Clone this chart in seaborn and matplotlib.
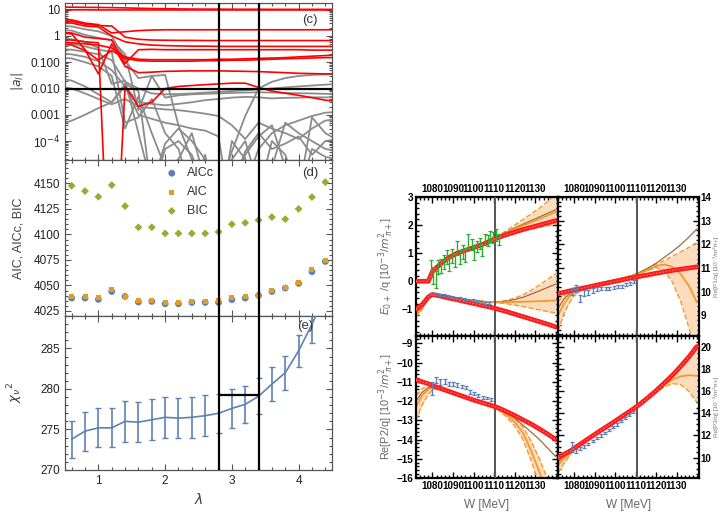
import pandas as pd
import seaborn as sns
import matplotlib.pyplot as plt
from matplotlib.ticker import MultipleLocator, FixedLocator, FixedFormatter, NullFormatter, LogLocator, StrMethodFormatter

sns.set_theme(style="ticks")
plt.rcParams['font.family'] = ['Liberation Sans', 'DejaVu Sans']
plt.rcParams['axes.labelcolor'] = '#404040'

# ---------------- left column: lambda scan ----------------
lam = [0.6, 0.8, 1.0, 1.2, 1.4, 1.6, 1.8, 2.0, 2.2, 2.4, 2.6, 2.8, 3.0, 3.2, 3.4, 3.6, 3.8, 4.0, 4.2, 4.4]
aicc = [4037.6, 4037.6, 4036.3, 4044.0, 4039.2, 4033.7, 4034.3, 4032.0, 4032.0, 4033.3,
        4033.3, 4033.3, 4036.0, 4037.6, 4040.2, 4044.0, 4047.4, 4052.0, 4063.4, 4073.5]
aic = [4039.0, 4039.0, 4038.0, 4045.8, 4039.5, 4035.0, 4035.0, 4033.7, 4033.7, 4034.0,
       4034.0, 4035.0, 4038.0, 4039.0, 4040.5, 4044.8, 4048.0, 4052.6, 4065.4, 4074.8]
bic = [4147.7, 4142.5, 4137.0, 4148.4, 4127.8, 4107.0, 4107.0, 4101.0, 4101.0, 4101.0,
       4101.0, 4102.5, 4110.0, 4111.4, 4114.0, 4117.0, 4115.0, 4125.0, 4136.6, 4151.3]
chi2 = [273.8, 274.8, 275.2, 275.2, 276.0, 275.9, 276.2, 276.5, 276.4, 276.5,
        276.7, 277.0, 277.6, 278.1, 279.1, 280.6, 282.0, 284.7, 288.0, 291.5]
chi2_err = [2.3, 2.4, 2.4, 2.4, 2.5, 2.5, 2.5, 2.5, 2.5, 2.5,
            2.5, 2.4, 2.4, 2.3, 2.2, 2.1, 2.1, 2.0, 2.3, 2.0]
lam_sel = [2.8, 3.4]
chi2_sel = 279.3
a_cut = 0.01

lam_c = [0.4, 0.6, 0.8, 1.0, 1.2, 1.4, 1.6, 1.8, 2.0, 2.2, 2.4, 2.6, 2.8, 3.0, 3.2, 3.4, 3.6, 3.8, 4.0, 4.2, 4.4, 4.6]
red_a = [12.6, 12.5, 12.3, 12.2, 12.0, 11.7, 11.4, 11.1, 10.9, 10.7, 10.6, 10.5, 10.5, 10.4, 10.4, 10.4, 10.3, 10.3, 10.3, 10.3, 10.3, 10.3]
red_b = [9.9, 9.9, 9.9, 9.8, 9.8, 9.8, 9.8, 9.8, 9.8, 9.8, 9.8, 9.8, 9.8, 9.8, 9.8, 9.8, 9.8, 9.8, 9.8, 9.8, 9.8, 9.8]
red_c = [4.3, 4.1, 3.1, 2.7, 1.3, 1.45, 1.6, 1.68, 1.72, 1.72, 1.72, 1.72, 1.72, 1.72, 1.72, 1.72, 1.72, 1.72, 1.72, 1.72, 1.72, 1.72]
red_d = [3.8, 3.6, 2.8, 2.5, 2.4, 0.9, 0.75, 0.7, 0.69, 0.68, 0.68, 0.67, 0.67, 0.67, 0.67, 0.67, 0.67, 0.67, 0.67, 0.67, 0.67, 0.67]
red_e = [3.3, 3.1, 2.4, 2.2, 1.0, 0.6, 0.5, 0.45, 0.43, 0.42, 0.41, 0.41, 0.40, 0.40, 0.40, 0.40, 0.40, 0.40, 0.40, 0.40, 0.40, 0.40]
red_f = [1.4, 1.3, 0.9, 0.8, 0.7, 0.09, 0.3, 0.31, 0.3, 0.3, 0.3, 0.3, 0.3, 0.3, 0.3, 0.3, 0.3, 0.3, 0.3, 0.29, 0.29, 0.29]
red_g = [0.6, 0.55, 0.5, 0.45, 0.35, 0.16, 0.13, 0.125, 0.125, 0.125, 0.125, 0.125, 0.13, 0.13, 0.135, 0.14, 0.145, 0.15, 0.16, 0.17, 0.18, 0.19]
red_h = [0.5, 0.45, 0.28, 0.12, 0.28, 0.14, 0.115, 0.11, 0.11, 0.11, 0.11, 0.115, 0.115, 0.12, 0.12, 0.125, 0.13, 0.135, 0.14, 0.145, 0.15, 0.15]
red_i = [1.3, 1.2, 0.3, 0.036, 0.5, 0.07, 0.04, 0.042, 0.045, 0.046, 0.047, 0.047, 0.047, 0.046, 0.045, 0.044, 0.042, 0.040, 0.038, 0.037, 0.036, 0.035]
red_j = [0.75, 0.7, 0.6, 0.55, 1e-12, 0.012, 0.0021, 0.003, 0.01, 0.012, 0.013, 0.014, 0.015, 0.016, 0.016, 0.011, 0.008, 0.0066, 0.0055, 0.0045, 0.0036, 0.0032]
gray_1 = [2.5, 2.3, 1.8, 1.5, 1.0, 0.12, 0.025, 0.03, 0.0045, 0.0055, 0.006, 0.0063, 0.0065, 0.0068, 0.007, 0.0072, 0.007, 0.0068, 0.0066, 0.0065, 0.0063, 0.006]
gray_2 = [1.7, 1.6, 1.1, 0.85, 0.7, 0.2, 0.0015, 0.03, 0.033, 0.0004, 2e-5, 3e-6, 1e-6, 4e-5, 0.0009, 0.01, 0.018, 0.025, 0.03, 0.033, 0.035, 0.036]
gray_3 = [0.32, 0.3, 0.25, 0.2, 0.12, 0.018, 0.01, 0.0065, 0.006, 0.0062, 0.0065, 0.007, 0.0075, 0.008, 0.0085, 0.0092, 0.01, 0.011, 0.012, 0.013, 0.014, 0.015]
gray_4 = [0.22, 0.2, 0.16, 0.11, 0.05, 0.012, 0.003, 0.0026, 0.0023, 0.0026, 0.003, 0.0036, 0.004, 0.0045, 0.0048, 0.0046, 0.0042, 0.0044, 0.0045, 0.0046, 0.0046, 0.0046]
gray_5 = [0.025, 0.02, 0.012, 0.006, 0.003, 0.012, 0.001, 0.0007, 0.0005, 0.0004, 0.0003, 0.00025, 0.00015, 1e-7, 2e-6, 5e-5, 0.0002, 0.0004, 0.0006, 0.0009, 0.0012, 0.0013]
gray_6 = [0.012, 0.01, 0.0065, 0.004, 0.0025, 0.004, 0.002, 0.0018, 0.0016, 0.0015, 0.0013, 0.0011, 0.0009, 0.0004, 0.00012, 0.0005, 0.0003, 0.0002, 0.00012, 0.0003, 0.0006, 0.0007]
gray_7 = [0.0004, 0.0006, 0.001, 0.0018, 0.003, 0.015, 0.008, 1e-6, 5e-5, 0.0001, 3e-5, 1e-6, 1e-5, 2e-6, 4e-5, 0.0002, 5e-5, 8e-5, 0.00015, 3e-5, 0.0001, 0.00012]
gray_8 = [0.15, 0.14, 0.1, 0.07, 0.03, 0.0003, 0.005, 0.0002, 1e-5, 2e-5, 0.0002, 3e-6, 1e-7, 0.0001, 2e-5, 1e-6, 0.0001, 3e-5, 1e-6, 5e-5, 2.5e-5, 2e-5]
gray_9 = [0.8, 0.75, 0.6, 0.35, 0.015, 0.02, 0.0002, 2e-6, 8e-5, 0.0003, 0.0001, 2e-5, 3e-6, 2e-5, 0.0001, 2e-6, 1e-5, 0.0005, 0.0002, 0.0001, 5e-5, 4e-5]
gray_10 = [0.55, 0.5, 0.4, 0.3, 0.25, 0.0005, 0.0008, 0.004, 0.0002, 5e-5, 1e-6, 3e-5, 1e-7, 1e-6, 3e-5, 0.00015, 0.0004, 1e-5, 1e-6, 0.0008, 0.0002, 0.0001]

# ---------------- right block: multipoles vs W ----------------
w = [1072, 1075, 1078, 1080, 1084, 1088, 1092, 1096, 1100, 1104, 1108, 1112, 1116, 1120, 1124, 1128, 1132, 1136, 1140]
w_cut = 1110.5
w_ticks = [1080, 1090, 1100, 1110, 1120, 1130]

tl_up_red = [0, 0, 0, 0.35, 0.62, 0.85, 1.0, 1.1, 1.2, 1.3, 1.43, 1.56, 1.66, 1.75, 1.84, 1.92, 2.0, 2.08, 2.16]
tl_up_org = [0, 0, 0, 0.33, 0.62, 0.86, 1.01, 1.12, 1.23, 1.34, 1.46, 1.6, 1.72, 1.86, 1.98, 2.1, 2.22, 2.34, 2.47]
tl_up_hi = [0, 0, 0, 0.36, 0.65, 0.88, 1.03, 1.14, 1.25, 1.36, 1.48, 1.63, 1.8, 2.0, 2.2, 2.4, 2.6, 2.85, 3.1]
tl_up_lo = [0, 0, 0, 0.3, 0.59, 0.84, 0.99, 1.1, 1.21, 1.32, 1.44, 1.57, 1.66, 1.74, 1.8, 1.86, 1.92, 1.98, 2.03]
tl_up_brn = [0, 0, 0, 0.33, 0.62, 0.86, 1.01, 1.12, 1.23, 1.34, 1.46, 1.61, 1.75, 1.9, 2.03, 2.16, 2.29, 2.42, 2.55]
tl_dn_red = [-1.0, -0.83, -0.56, -0.47, -0.53, -0.6, -0.66, -0.73, -0.79, -0.86, -0.92, -1.0, -1.08, -1.17, -1.26, -1.35, -1.44, -1.53, -1.63]
tl_dn_org = [-1.22, -0.95, -0.6, -0.46, -0.5, -0.55, -0.6, -0.65, -0.69, -0.72, -0.74, -0.75, -0.75, -0.74, -0.73, -0.72, -0.71, -0.7, -0.68]
tl_dn_hi = [-1.15, -0.9, -0.57, -0.45, -0.49, -0.54, -0.59, -0.64, -0.68, -0.71, -0.73, -0.73, -0.68, -0.6, -0.48, -0.32, -0.13, 0.07, 0.28]
tl_dn_lo = [-1.28, -1.0, -0.63, -0.47, -0.51, -0.56, -0.61, -0.66, -0.7, -0.73, -0.75, -0.77, -0.8, -0.85, -0.9, -0.96, -1.02, -1.08, -1.13]
tl_dn_brn = [-1.2, -0.93, -0.59, -0.46, -0.5, -0.55, -0.6, -0.65, -0.69, -0.72, -0.74, -0.74, -0.71, -0.65, -0.57, -0.46, -0.34, -0.22, -0.1]

tr_red = [9.92, 9.98, 10.04, 10.08, 10.15, 10.22, 10.3, 10.37, 10.44, 10.51, 10.58, 10.65, 10.71, 10.78, 10.84, 10.9, 10.95, 11.0, 11.05]
tr_org = [9.0, 9.5, 9.85, 10.0, 10.15, 10.25, 10.33, 10.41, 10.5, 10.58, 10.67, 10.78, 10.93, 11.08, 11.15, 11.05, 10.75, 10.25, 9.55]
tr_lo = [8.35, 9.1, 9.6, 9.85, 10.1, 10.22, 10.32, 10.4, 10.49, 10.57, 10.65, 10.76, 10.9, 11.02, 10.9, 10.4, 9.6, 8.5, 7.2]
tr_hi = [9.6, 9.85, 10.05, 10.12, 10.2, 10.28, 10.35, 10.43, 10.51, 10.6, 10.69, 10.81, 10.98, 11.15, 11.32, 11.5, 11.68, 11.87, 12.07]
tr_brn = [9.3, 9.7, 9.95, 10.05, 10.17, 10.26, 10.34, 10.42, 10.5, 10.59, 10.68, 10.82, 11.0, 11.2, 11.45, 11.7, 11.98, 12.3, 12.65]

bl_red = [-10.9, -11.0, -11.1, -11.2, -11.35, -11.5, -11.65, -11.8, -11.95, -12.08, -12.21, -12.35, -12.55, -12.75, -12.98, -13.2, -13.45, -13.72, -14.0]
bl_org = [-12.3, -11.7, -11.4, -11.28, -11.3, -11.45, -11.62, -11.8, -11.96, -12.1, -12.25, -12.42, -12.7, -13.1, -13.65, -14.6, -15.7, -16.9, -18.2]
bl_lo = [-13.0, -12.2, -11.65, -11.42, -11.35, -11.48, -11.65, -11.82, -11.98, -12.12, -12.28, -12.47, -12.82, -13.3, -14.0, -15.1, -16.4, -17.8, -19.3]
bl_hi = [-11.7, -11.35, -11.2, -11.15, -11.25, -11.42, -11.6, -11.78, -11.94, -12.08, -12.22, -12.38, -12.6, -12.92, -13.35, -14.1, -15.0, -16.1, -17.2]
bl_brn = [-12.0, -11.55, -11.3, -11.22, -11.28, -11.44, -11.61, -11.79, -11.95, -12.09, -12.23, -12.37, -12.6, -12.9, -13.25, -13.62, -14.0, -14.45, -14.9]

br_red = [10.0, 10.3, 10.6, 10.85, 11.35, 11.85, 12.35, 12.82, 13.3, 13.8, 14.3, 14.82, 15.42, 16.05, 16.75, 17.45, 18.25, 19.1, 20.05]
br_org = [9.3, 9.9, 10.45, 10.8, 11.35, 11.85, 12.35, 12.83, 13.3, 13.8, 14.3, 14.82, 15.4, 16.0, 16.6, 17.05, 17.35, 17.45, 17.4]
br_lo = [8.6, 9.5, 10.25, 10.7, 11.3, 11.82, 12.33, 12.81, 13.29, 13.79, 14.29, 14.8, 15.35, 15.9, 16.4, 16.7, 16.6, 16.0, 15.0]
br_hi = [9.9, 10.3, 10.65, 10.9, 11.4, 11.88, 12.37, 12.85, 13.32, 13.82, 14.32, 14.85, 15.45, 16.1, 16.8, 17.5, 18.2, 18.95, 19.75]
br_brn = [9.6, 10.1, 10.55, 10.85, 11.37, 11.86, 12.36, 12.84, 13.31, 13.81, 14.31, 14.84, 15.44, 16.08, 16.78, 17.5, 18.3, 19.1, 20.0]

tl_g_w = [1079.5, 1080.5, 1081.5, 1082.5, 1084, 1085.5, 1087, 1088, 1089.5, 1091, 1092, 1093.5, 1095,
          1096, 1097.5, 1099, 1100, 1101.5, 1103, 1104, 1105.5, 1107, 1108, 1109.5, 1111, 1112.5]
tl_g_v = [0.45, 0.2, 0.05, 0.5, 0.55, 0.7, 0.85, 0.6, 0.9, 0.75, 1.2, 0.85, 1.05,
          0.95, 1.45, 1.3, 1.0, 1.25, 1.35, 1.1, 1.5, 1.45, 1.6, 1.55, 1.65, 1.5]
tl_g_e = [0.3, 0.3, 0.3, 0.25, 0.25, 0.25, 0.25, 0.25, 0.25, 0.25, 0.25, 0.25, 0.25,
          0.25, 0.25, 0.2, 0.25, 0.2, 0.2, 0.2, 0.2, 0.2, 0.2, 0.2, 0.2, 0.2]
tl_b_w = [1079.5, 1081.5, 1083.5, 1085.5, 1087.5, 1089.5, 1091.5, 1093.5, 1095.5, 1097.5, 1099.5, 1101.5, 1103.5, 1105.5, 1107.5]
tl_b_v = [-0.45, -0.46, -0.49, -0.5, -0.53, -0.55, -0.58, -0.6, -0.63, -0.65, -0.68, -0.7, -0.73, -0.76, -0.78]
tl_b_e = [0.04, 0.035, 0.035, 0.035, 0.035, 0.035, 0.035, 0.035, 0.035, 0.035, 0.035, 0.035, 0.035, 0.035, 0.035]
tr_b_w = [1078.8, 1080.7, 1082.8, 1084.9, 1086.8, 1089.2, 1091.3, 1093.2, 1095.3, 1097.2, 1099.3, 1101.2, 1103.3, 1105.2, 1107.3, 1109.2]
tr_b_v = [10.0, 10.14, 9.72, 9.94, 9.98, 10.04, 10.12, 10.14, 10.14, 10.14, 10.17, 10.21, 10.23, 10.29, 10.36, 10.43]
tr_b_e = [0.14, 0.14, 0.14, 0.12, 0.1, 0.1, 0.08, 0.07, 0.07, 0.07, 0.07, 0.06, 0.06, 0.06, 0.06, 0.06]
bl_b_w = [1079.7, 1081.7, 1083.8, 1085.9, 1088.0, 1089.9, 1091.8, 1094.2, 1096.3, 1098.2, 1100.3, 1102.3, 1104.4, 1106.3, 1108.4]
bl_b_v = [-11.36, -10.92, -11.01, -10.97, -11.1, -11.13, -11.18, -11.24, -11.31, -11.53, -11.62, -11.71, -11.8, -11.85, -11.92]
bl_b_e = [0.35, 0.15, 0.15, 0.12, 0.1, 0.1, 0.1, 0.08, 0.08, 0.08, 0.07, 0.07, 0.07, 0.06, 0.06]
br_b_w = [1078.8, 1080.9, 1082.9, 1084.9, 1086.8, 1088.9, 1090.9, 1092.9, 1094.9, 1096.9, 1098.9, 1100.9, 1102.9, 1104.9, 1106.9, 1108.9]
br_b_v = [10.95, 10.6, 10.8, 11.0, 11.25, 11.5, 11.75, 12.0, 12.25, 12.5, 12.75, 13.0, 13.3, 13.55, 13.85, 14.15]
br_b_e = [0.45, 0.15, 0.12, 0.12, 0.1, 0.1, 0.1, 0.1, 0.1, 0.1, 0.1, 0.1, 0.1, 0.1, 0.1, 0.1]

BLUE = '#5E81B5'
ORANGE = '#E19C24'
GREEN = '#8FB032'
RED = '#FF0000'
GRAY = '#8C8C8C'
BAND = '#FDDCBD'
ORG = '#F29A30'
BRN = '#A46B3A'
DGREEN = '#2EAA2E'

W_PX, H_PX = 720, 514
fig = plt.figure(figsize=(7.2, 5.14), dpi=100)


def axes_px(x0, y0, x1, y1):
    return fig.add_axes([x0 / W_PX, 1 - y1 / H_PX, (x1 - x0) / W_PX, (y1 - y0) / H_PX])


def left_style(ax):
    for s in ax.spines.values():
        s.set_color('#555555')
        s.set_linewidth(0.9)
    ax.tick_params(which='both', direction='in', top=True, right=True, colors='#555555',
                   labelcolor='#222222', labelsize=8.5, width=0.8)
    ax.tick_params(which='major', length=4)
    ax.tick_params(which='minor', length=2)
    ax.set_xlim(0.5, 4.5)
    ax.xaxis.set_major_locator(MultipleLocator(1))
    ax.xaxis.set_minor_locator(MultipleLocator(0.2))
    for x in lam_sel:
        ax.axvline(x, color='black', lw=1.6, zorder=6)


ax_c = axes_px(65, 3, 332, 160)
ax_d = axes_px(65, 160, 332, 316)
ax_e = axes_px(65, 316, 332, 470)

# (c) coefficient magnitudes
ax_c.set_yscale('log')
rows = []
for kind, lines in [('gray', [gray_1, gray_2, gray_3, gray_4, gray_5, gray_6, gray_7, gray_8, gray_9, gray_10]),
                    ('red', [red_a, red_b, red_c, red_d, red_e, red_f, red_g, red_h, red_i, red_j])]:
    for k, vals in enumerate(lines):
        for l, v in zip(lam_c, vals):
            rows.append({'lam': l, 'a': v, 'line': f'{kind}{k}', 'kind': kind})
df_c = pd.DataFrame(rows)
sns.lineplot(data=df_c[df_c.kind == 'gray'], x='lam', y='a', units='line', estimator=None,
             color=GRAY, lw=1.3, ax=ax_c, sort=False)
sns.lineplot(data=df_c[df_c.kind == 'red'], x='lam', y='a', units='line', estimator=None,
             color=RED, lw=1.2, ax=ax_c, sort=False)
ax_c.axhline(a_cut, color='black', lw=1.6, zorder=6)
left_style(ax_c)
ax_c.set_ylim(1.9e-5, 18)
ax_c.yaxis.set_major_locator(FixedLocator([1e-4, 1e-3, 1e-2, 1e-1, 1, 10]))
ax_c.yaxis.set_major_formatter(FixedFormatter(['10$^{-4}$', '0.001', '0.010', '0.100', '1', '10']))
ax_c.yaxis.set_minor_locator(LogLocator(subs=range(2, 10)))
ax_c.yaxis.set_minor_formatter(NullFormatter())
ax_c.tick_params(labelbottom=False)
ax_c.set_xlabel('')
ax_c.set_ylabel(r'$|a_l|$', fontsize=9)
ax_c.yaxis.set_label_coords(-0.15, 0.5)
ax_c.text(0.918, 0.89, '(c)', transform=ax_c.transAxes, ha='center', va='center', fontsize=9.5, color='#333333')

# (d) information criteria
df_d = pd.DataFrame({'lam': lam * 3, 'val': aicc + aic + bic,
                     'crit': ['AICc'] * len(lam) + ['AIC'] * len(lam) + ['BIC'] * len(lam)})
for crit, mk, col, sz in [('BIC', 'D', GREEN, 16), ('AICc', 'o', BLUE, 24), ('AIC', 's', ORANGE, 13)]:
    sns.scatterplot(data=df_d[df_d.crit == crit], x='lam', y='val', marker=mk, color=col, s=sz,
                    edgecolor='none', ax=ax_d, label=crit, zorder=4)
left_style(ax_d)
ax_d.set_ylim(4020, 4173)
ax_d.yaxis.set_major_locator(MultipleLocator(25))
ax_d.yaxis.set_minor_locator(MultipleLocator(5))
ax_d.tick_params(labelbottom=False)
ax_d.set_xlabel('')
ax_d.set_ylabel('AIC, AICc, BIC', fontsize=9)
ax_d.yaxis.set_label_coords(-0.15, 0.5)
h, lbl = ax_d.get_legend_handles_labels()
order = [lbl.index('AICc'), lbl.index('AIC'), lbl.index('BIC')]
ax_d.legend([h[i] for i in order], [lbl[i] for i in order], loc='upper left', bbox_to_anchor=(0.325, 1.0),
            frameon=False, fontsize=9, handletextpad=0.2, labelspacing=0.55, borderaxespad=0.2,
            labelcolor='#333333')
ax_d.text(0.918, 0.917, '(d)', transform=ax_d.transAxes, ha='center', va='center', fontsize=9.5, color='#333333')

# (e) reduced chi^2
ax_e.errorbar(lam, chi2, yerr=chi2_err, fmt='none', ecolor=BLUE, elinewidth=1.2, capsize=2.2, capthick=1.0, zorder=3)
sns.lineplot(x=lam, y=chi2, color=BLUE, lw=1.2, ax=ax_e, zorder=3)
ax_e.hlines(chi2_sel, lam_sel[0], lam_sel[1], color='black', lw=1.6, zorder=6)
left_style(ax_e)
ax_e.set_ylim(270, 289)
ax_e.yaxis.set_major_locator(MultipleLocator(5))
ax_e.yaxis.set_minor_locator(MultipleLocator(1))
ax_e.set_xlabel(r'$\lambda$', fontsize=10)
ax_e.set_ylabel(r'$\chi_{\nu}{}^{2}$', fontsize=9.5)
ax_e.yaxis.set_label_coords(-0.15, 0.5)
ax_e.text(0.9, 0.935, '(e)', transform=ax_e.transAxes, ha='center', va='center', fontsize=9.5, color='#333333')

# ---------------- right 2x2 block ----------------
ax_tl = axes_px(416, 197, 558, 336)
ax_tr = axes_px(558, 197, 699, 336)
ax_bl = axes_px(416, 336, 558, 478)
ax_br = axes_px(558, 336, 699, 478)


def model(ax, red, org, lo, hi, brn):
    ax.fill_between(w, lo, hi, color=BAND, lw=0, zorder=1)
    sns.lineplot(x=w, y=lo, ax=ax, color=ORG, lw=1.0, ls='--', zorder=2)
    sns.lineplot(x=w, y=hi, ax=ax, color=ORG, lw=1.0, ls='--', zorder=2)
    sns.lineplot(x=w, y=brn, ax=ax, color=BRN, lw=0.9, zorder=2)
    sns.lineplot(x=w, y=org, ax=ax, color=ORG, lw=1.3, zorder=2)
    sns.lineplot(x=w, y=red, ax=ax, color='#FF1A1A', lw=3.4, zorder=4)
    sns.lineplot(x=w, y=red, ax=ax, color='#FF7070', lw=0.8, ls=(0, (1.5, 1.5)), zorder=4)


def data(ax, x, y, e, col):
    ax.errorbar(x, y, yerr=e, fmt='none', ecolor=col, elinewidth=1.0, capsize=1.6, capthick=0.9, zorder=5)


def right_style(ax, ylim, ymaj, ymin, top, right):
    ax.axvline(w_cut, color='#555555', lw=1.4, zorder=3)
    ax.set_xlim(1072, 1141)
    ax.set_ylim(*ylim)
    ax.xaxis.set_major_locator(FixedLocator(w_ticks))
    ax.xaxis.set_major_formatter(StrMethodFormatter('{x:.0f}'))
    ax.xaxis.set_minor_locator(MultipleLocator(2))
    ax.yaxis.set_major_locator(MultipleLocator(ymaj))
    ax.yaxis.set_minor_locator(MultipleLocator(ymin))
    for s in ax.spines.values():
        s.set_color('black')
        s.set_linewidth(1.6)
    ax.tick_params(which='both', direction='in', top=True, bottom=True, left=True, right=True,
                   colors='black', width=1.0, labelsize=7.1, pad=2)
    ax.tick_params(which='major', length=4)
    ax.tick_params(which='minor', length=2)
    ax.tick_params(axis='x', labeltop=top, labelbottom=not top)
    ax.tick_params(axis='y', labelright=right, labelleft=not right)
    if right:
        ax.tick_params(axis='y', labelsize=7, pad=1.2)
    ax.set_xlabel('')
    ax.set_ylabel('')
    for tk in ax.xaxis.get_major_ticks() + ax.yaxis.get_major_ticks():
        tk.label1.set_fontweight('bold')
        tk.label2.set_fontweight('bold')


model(ax_tl, tl_up_red, tl_up_org, tl_up_lo, tl_up_hi, tl_up_brn)
model(ax_tl, tl_dn_red, tl_dn_org, tl_dn_lo, tl_dn_hi, tl_dn_brn)
data(ax_tl, tl_g_w, tl_g_v, tl_g_e, DGREEN)
data(ax_tl, tl_b_w, tl_b_v, tl_b_e, BLUE)
right_style(ax_tl, (-1.95, 3), 1, 0.2, True, False)

model(ax_tr, tr_red, tr_org, tr_lo, tr_hi, tr_brn)
data(ax_tr, tr_b_w, tr_b_v, tr_b_e, BLUE)
right_style(ax_tr, (8.13, 14), 1, 0.2, True, True)

model(ax_bl, bl_red, bl_org, bl_lo, bl_hi, bl_brn)
data(ax_bl, bl_b_w, bl_b_v, bl_b_e, BLUE)
right_style(ax_bl, (-16, -8.62), 1, 0.2, False, False)

model(ax_br, br_red, br_org, br_lo, br_hi, br_brn)
data(ax_br, br_b_w, br_b_v, br_b_e, BLUE)
right_style(ax_br, (8.15, 21), 2, 0.5, False, True)

lab = dict(fontsize=7.8, color='#666666')
ax_tl.set_ylabel(r'$E_{0+}$ /q [10$^{-3}$/$m^2_{\ \pi+}$]', **lab)
ax_tl.yaxis.set_label_coords(-0.14, 0.5)
ax_bl.set_ylabel(r'Re[P2/q] [10$^{-3}$/$m^2_{\ \pi+}$]', **lab)
ax_bl.yaxis.set_label_coords(-0.14, 0.5)
# the right-hand labels sit in the narrow strip at the figure edge
for ax, txt in [(ax_tr, 'Re[P1/q] [10⁻³/m²π+]'), (ax_br, 'Re[P3/q] [10⁻³/m²π+]')]:
    ax.yaxis.set_label_position('right')
    ax.set_ylabel(txt, rotation=90, fontsize=4.6, color='#777777', family=['Liberation Sans', 'DejaVu Sans'])
    ax.yaxis.label.set_verticalalignment('center')
    ax.yaxis.set_label_coords((715.8 - 558) / 141, 0.5)
for ax in (ax_bl, ax_br):
    ax.set_xlabel('W [MeV]', fontsize=8.5, color='#666666', labelpad=6)

fig.savefig('out.png', dpi=100)
